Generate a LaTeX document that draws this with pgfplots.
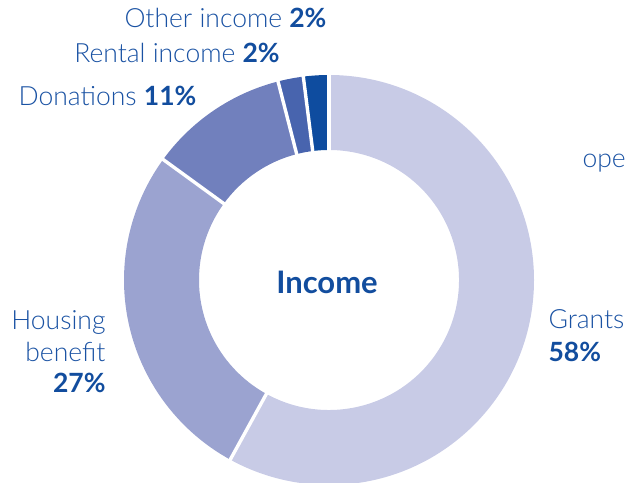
\documentclass[border=0pt]{standalone}
\usepackage{pgfplots}
\pgfplotsset{compat=1.18}
\usepackage{pgfplotstable}
\usepackage{fontspec}
\setmainfont{Lato}[UprightFont=* Light, BoldFont=* Bold]
\definecolor{c0}{HTML}{C8CBE6}
\definecolor{c1}{HTML}{9BA3D0}
\definecolor{c2}{HTML}{7180BD}
\definecolor{c3}{HTML}{4864AE}
\definecolor{c4}{HTML}{0E4C9F}
\definecolor{txt}{HTML}{1A52A3}
\definecolor{txtb}{HTML}{124D9E}

\pgfplotstableread{
label value
Grants 58
Housing 27
Donations 11
Rental 2
Other 2
}\incometable

\newcommand\lbl{\fontsize{26.5bp}{31bp}\selectfont}
\newcommand\pc[1]{{\bfseries\color{txtb}#1}}

\begin{document}
\begin{tikzpicture}
\pgfmathsetmacro\acc{90}
\xdef\acc{\acc}
\foreach \i in {0,...,4}{
  \pgfplotstablegetelem{\i}{value}\of\incometable
  \pgfmathsetmacro\tmp{\acc-3.6*\pgfplotsretval}
  \expandafter\xdef\csname aS\i\endcsname{\acc}
  \expandafter\xdef\csname aE\i\endcsname{\tmp}
  \xdef\acc{\tmp}
}
\begin{axis}[
  width=627bp, height=483bp, scale only axis,
  xmin=0, xmax=627, ymin=0, ymax=483,
  hide axis, clip=false,
]
\coordinate (ll) at (rel axis cs:0,0);
\coordinate (ur) at (rel axis cs:1,1);
\pgfplotsinvokeforeach{0,...,4}{
  \fill[c#1] ([shift={(\csname aS#1\endcsname:205bp)}]axis cs:329,203)
    arc[start angle=\csname aS#1\endcsname, end angle=\csname aE#1\endcsname, radius=205bp]
    -- ([shift={(\csname aE#1\endcsname:130bp)}]axis cs:329,203)
    arc[start angle=\csname aE#1\endcsname, end angle=\csname aS#1\endcsname, radius=130bp]
    -- cycle;
}
\pgfplotsinvokeforeach{0,...,4}{
  \draw[white, line width=3.4bp]
    ([shift={(\csname aS#1\endcsname:126bp)}]axis cs:329,203) --
    ([shift={(\csname aS#1\endcsname:209bp)}]axis cs:329,203);
}
\node[anchor=base, text=txt, font=\lbl] at (axis cs:225.5,455) {Other income \pc{2\%}};
\node[anchor=base, text=txt, font=\lbl] at (axis cs:177,420) {Rental income \pc{2\%}};
\node[anchor=base, text=txt, font=\lbl] at (axis cs:107.5,377) {Donations \pc{11\%}};
\node[anchor=base east, text=txt, font=\lbl] at (axis cs:109,153) {Housing};
\node[anchor=base east, text=txt, font=\lbl] at (axis cs:109,121) {benefit};
\node[anchor=base east, text=txt, font=\lbl] at (axis cs:109,90) {\pc{27\%}};
\node[anchor=base west, text=txt, font=\lbl] at (axis cs:545,154) {Grants};
\node[anchor=base west, text=txt, font=\lbl] at (axis cs:545,121) {\pc{58\%}};
\node[anchor=base west, text=txt, font=\lbl] at (axis cs:579,315) {ope};
\node[anchor=base, text=txtb, font=\fontsize{31bp}{36bp}\selectfont\bfseries] at (axis cs:327,189) {Income};
\end{axis}
\pgfresetboundingbox
\path[use as bounding box] (ll) rectangle (ur);
\end{tikzpicture}
\end{document}
